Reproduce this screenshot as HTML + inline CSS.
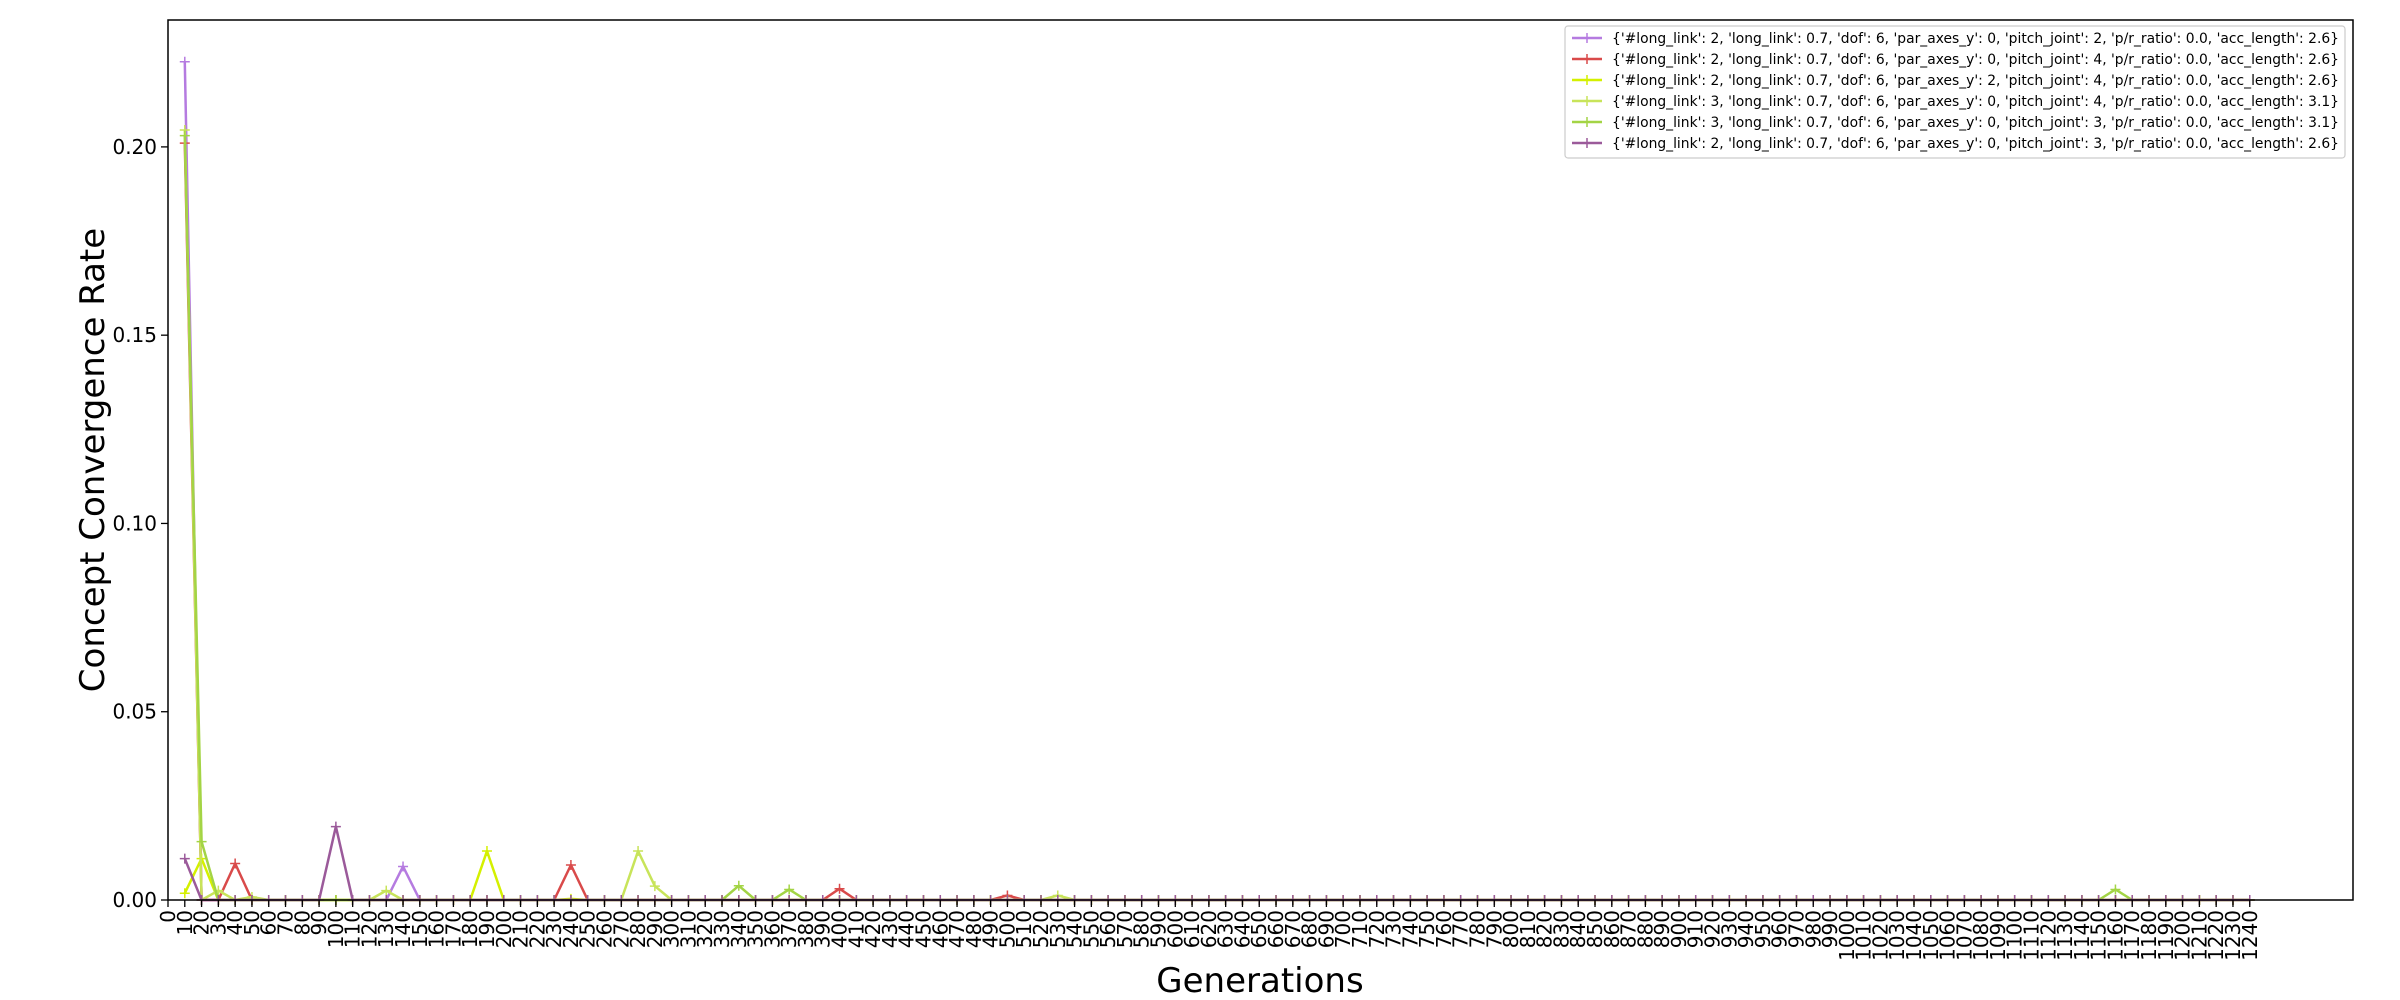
<!DOCTYPE html>
<html><head><meta charset="utf-8"><style>
html,body{margin:0;padding:0;background:#fff;}
svg{display:block;font-family:"DejaVu Sans","Liberation Sans",sans-serif;}
</style></head><body>
<svg id="chart" width="2400" height="1000" viewBox="0 0 2400 1000" xmlns="http://www.w3.org/2000/svg">
<rect x="0" y="0" width="2400" height="1000" fill="#fff"/>
<g id="plot"></g>
<rect x="168" y="20" width="2185" height="880" fill="none" stroke="#000" stroke-width="1.5"/>
<g id="yticks"></g>
<g id="xticks"></g>
<text transform="translate(104,460) rotate(-90)" text-anchor="middle" font-size="34">Concept Convergence Rate</text>
<text x="1260" y="992" text-anchor="middle" font-size="34">Generations</text>
<g id="legend"></g>
</svg>
<script>
const generations = [10,20,30,40,50,60,70,80,90,100,110,120,130,140,150,160,170,180,190,200,210,220,230,240,250,260,270,280,290,300,310,320,330,340,350,360,370,380,390,400,410,420,430,440,450,460,470,480,490,500,510,520,530,540,550,560,570,580,590,600,610,620,630,640,650,660,670,680,690,700,710,720,730,740,750,760,770,780,790,800,810,820,830,840,850,860,870,880,890,900,910,920,930,940,950,960,970,980,990,1000,1010,1020,1030,1040,1050,1060,1070,1080,1090,1100,1110,1120,1130,1140,1150,1160,1170,1180,1190,1200,1210,1220,1230,1240];
const xTickLabels = [0,10,20,30,40,50,60,70,80,90,100,110,120,130,140,150,160,170,180,190,200,210,220,230,240,250,260,270,280,290,300,310,320,330,340,350,360,370,380,390,400,410,420,430,440,450,460,470,480,490,500,510,520,530,540,550,560,570,580,590,600,610,620,630,640,650,660,670,680,690,700,710,720,730,740,750,760,770,780,790,800,810,820,830,840,850,860,870,880,890,900,910,920,930,940,950,960,970,980,990,1000,1010,1020,1030,1040,1050,1060,1070,1080,1090,1100,1110,1120,1130,1140,1150,1160,1170,1180,1190,1200,1210,1220,1230,1240];
const yTickLabels = [0.00,0.05,0.10,0.15,0.20];
const seriesPurple = [0.2226,0,0,0,0,0,0,0,0,0,
0,0,0,0.0089,0,0,0,0,0,0,
0,0,0,0,0,0,0,0,0,0, 0,0,0,0,0,0,0,0,0,0, 0,0,0,0,0,0,0,0,0,0,
0,0,0,0,0,0,0,0,0,0, 0,0,0,0,0,0,0,0,0,0, 0,0,0,0,0,0,0,0,0,0,
0,0,0,0,0,0,0,0,0,0, 0,0,0,0,0,0,0,0,0,0, 0,0,0,0,0,0,0,0,0,0,
0,0,0,0,0,0,0,0,0,0, 0,0,0,0];
const seriesRed = [0.201,0,0,0.0097,0,0,0,0,0,0,
0,0,0,0,0,0,0,0,0,0,
0,0,0,0.0093,0,0,0,0,0,0,
0,0,0,0,0,0,0,0,0,0.003,
0,0,0,0,0,0,0,0,0,0.0012,
0,0,0,0,0,0,0,0,0,0, 0,0,0,0,0,0,0,0,0,0, 0,0,0,0,0,0,0,0,0,0,
0,0,0,0,0,0,0,0,0,0, 0,0,0,0,0,0,0,0,0,0, 0,0,0,0,0,0,0,0,0,0,
0,0,0,0,0,0,0,0,0,0, 0,0,0,0];
const seriesYellow = [0.0018,0.011,0,0,0,0,0,0,0,0,
0,0,0,0,0,0,0,0,0.013,0,
0,0,0,0.0003,0,0,0,0,0,0,
0,0,0,0,0,0,0,0,0,0, 0,0,0,0,0,0,0,0,0,0,
0,0,0,0,0,0,0,0,0,0, 0,0,0,0,0,0,0,0,0,0, 0,0,0,0,0,0,0,0,0,0,
0,0,0,0,0,0,0,0,0,0, 0,0,0,0,0,0,0,0,0,0, 0,0,0,0,0,0,0,0,0,0,
0,0,0,0,0,0,0,0,0,0, 0,0,0,0];
const seriesLime = [0.2045,0,0.0025,0,0.0008,0,0,0,0,0,
0,0,0.0025,0,0,0,0,0,0,0,
0,0,0,0,0,0,0,0.013,0.0037,0,
0,0,0,0,0,0,0,0,0,0, 0,0,0,0,0,0,0,0,0,0,
0,0,0.0012,0,0,0,0,0,0,0,
0,0,0,0,0,0,0,0,0,0, 0,0,0,0,0,0,0,0,0,0,
0,0,0,0,0,0,0,0,0,0, 0,0,0,0,0,0,0,0,0,0, 0,0,0,0,0,0,0,0,0,0,
0,0,0,0,0,0,0,0,0,0, 0,0,0,0];
const seriesGreen = [0.203,0.0155,0,0,0,0,0,0,0,0,
0,0,0,0,0,0,0,0,0,0, 0,0,0,0,0,0,0,0,0,0,
0,0,0,0.0038,0,0,0.0028,0,0,0,
0,0,0,0,0,0,0,0,0,0, 0,0,0,0,0,0,0,0,0,0, 0,0,0,0,0,0,0,0,0,0,
0,0,0,0,0,0,0,0,0,0, 0,0,0,0,0,0,0,0,0,0, 0,0,0,0,0,0,0,0,0,0,
0,0,0,0,0,0,0,0,0,0,
0,0,0,0,0,0.0028,0,0,0,0,
0,0,0,0];
const seriesPlum = [0.011,0,0,0,0,0,0,0,0,0.0195,
0,0,0,0,0,0,0,0,0,0, 0,0,0,0,0,0,0,0,0,0, 0,0,0,0,0,0,0,0,0,0,
0,0,0,0,0,0,0,0,0,0, 0,0,0,0,0,0,0,0,0,0, 0,0,0,0,0,0,0,0,0,0,
0,0,0,0,0,0,0,0,0,0, 0,0,0,0,0,0,0,0,0,0, 0,0,0,0,0,0,0,0,0,0,
0,0,0,0,0,0,0,0,0,0, 0,0,0,0,0,0,0,0,0,0, 0,0,0,0];
const seriesLabels = [
"{'#long_link': 2, 'long_link': 0.7, 'dof': 6, 'par_axes_y': 0, 'pitch_joint': 2, 'p/r_ratio': 0.0, 'acc_length': 2.6}",
"{'#long_link': 2, 'long_link': 0.7, 'dof': 6, 'par_axes_y': 0, 'pitch_joint': 4, 'p/r_ratio': 0.0, 'acc_length': 2.6}",
"{'#long_link': 2, 'long_link': 0.7, 'dof': 6, 'par_axes_y': 2, 'pitch_joint': 4, 'p/r_ratio': 0.0, 'acc_length': 2.6}",
"{'#long_link': 3, 'long_link': 0.7, 'dof': 6, 'par_axes_y': 0, 'pitch_joint': 4, 'p/r_ratio': 0.0, 'acc_length': 3.1}",
"{'#long_link': 3, 'long_link': 0.7, 'dof': 6, 'par_axes_y': 0, 'pitch_joint': 3, 'p/r_ratio': 0.0, 'acc_length': 3.1}",
"{'#long_link': 2, 'long_link': 0.7, 'dof': 6, 'par_axes_y': 0, 'pitch_joint': 3, 'p/r_ratio': 0.0, 'acc_length': 2.6}"];
const seriesColors = ["#b57be0","#d94a4a","#d4f000","#c8e45a","#a3d445","#9b5a9a"];
const seriesNames = ["series-pitch2","series-pitch4","series-par-axes2","series-3link-pitch4","series-3link-pitch3","series-pitch3"];
const seriesData = [seriesPurple,seriesRed,seriesYellow,seriesLime,seriesGreen,seriesPlum];

const NS="http://www.w3.org/2000/svg";
const L=168,R=2353,T=20,B=900;
const xMin=0,xMax=1301.5,yMin=0,yMax=0.2337;
function xs(v){return L+(v-xMin)/(xMax-xMin)*(R-L);}
function ys(v){return B-(v-yMin)/(yMax-yMin)*(B-T);}
function mk(tag,attrs,parent){const e=document.createElementNS(NS,tag);for(const k in attrs)e.setAttribute(k,attrs[k]);parent.appendChild(e);return e;}

const plot=document.getElementById('plot');
seriesData.forEach((vals,s)=>{
  const g=mk('g',{},plot);
  
  
  const pts=vals.map((v,i)=>xs(generations[i]).toFixed(2)+','+ys(v).toFixed(2)).join(' ');
  const pl=mk('polyline',{points:pts,fill:'none',stroke:seriesColors[s],'stroke-width':2.5,'stroke-linejoin':'round'},g);
  
  
  vals.forEach((v,i)=>{
    const x=xs(generations[i]),y=ys(v);
    const m=mk('path',{d:`M${x-5} ${y}H${x+5}M${x} ${y-5}V${y+5}`,stroke:seriesColors[s],'stroke-width':1.5},g);
    
    
  });
});

const yt=document.getElementById('yticks');
yTickLabels.forEach(v=>{
  const y=ys(v);
  const t=mk('line',{x1:L-7,x2:L,y1:y,y2:y,stroke:'#000','stroke-width':1.3},yt);
  
  
  const tx=mk('text',{x:L-11,y:y+7,'text-anchor':'end','font-size':20},yt);
  tx.textContent=v.toFixed(2);
  
  
});
const xt=document.getElementById('xticks');
xTickLabels.forEach(v=>{
  const x=xs(v);
  const t=mk('line',{x1:x,x2:x,y1:B,y2:B+7,stroke:'#000','stroke-width':1.3},xt);
  
  
  const tx=mk('text',{transform:`translate(${x+7},${B+10}) rotate(-90)`,'text-anchor':'end','font-size':20},xt);
  tx.textContent=String(v);
  
  
});

const lg=document.getElementById('legend');


mk('rect',{x:1565,y:26,width:780,height:132,rx:3,fill:'#fff',stroke:'#ccc','stroke-width':1.2},lg);
seriesLabels.forEach((lab,s)=>{
  const y=38+s*21;
  const e=mk('g',{},lg);
  
  
  mk('line',{x1:1572,x2:1602,y1:y,y2:y,stroke:seriesColors[s],'stroke-width':2.5},e);
  mk('path',{d:`M1582 ${y}H1592M1587 ${y-5}V${y+5}`,stroke:seriesColors[s],'stroke-width':1.5},e);
  const tx=mk('text',{x:1612,y:y+5,'font-size':14,textLength:727,lengthAdjust:'spacingAndGlyphs'},e);
  tx.textContent=lab;
});
</script>
</body></html>
